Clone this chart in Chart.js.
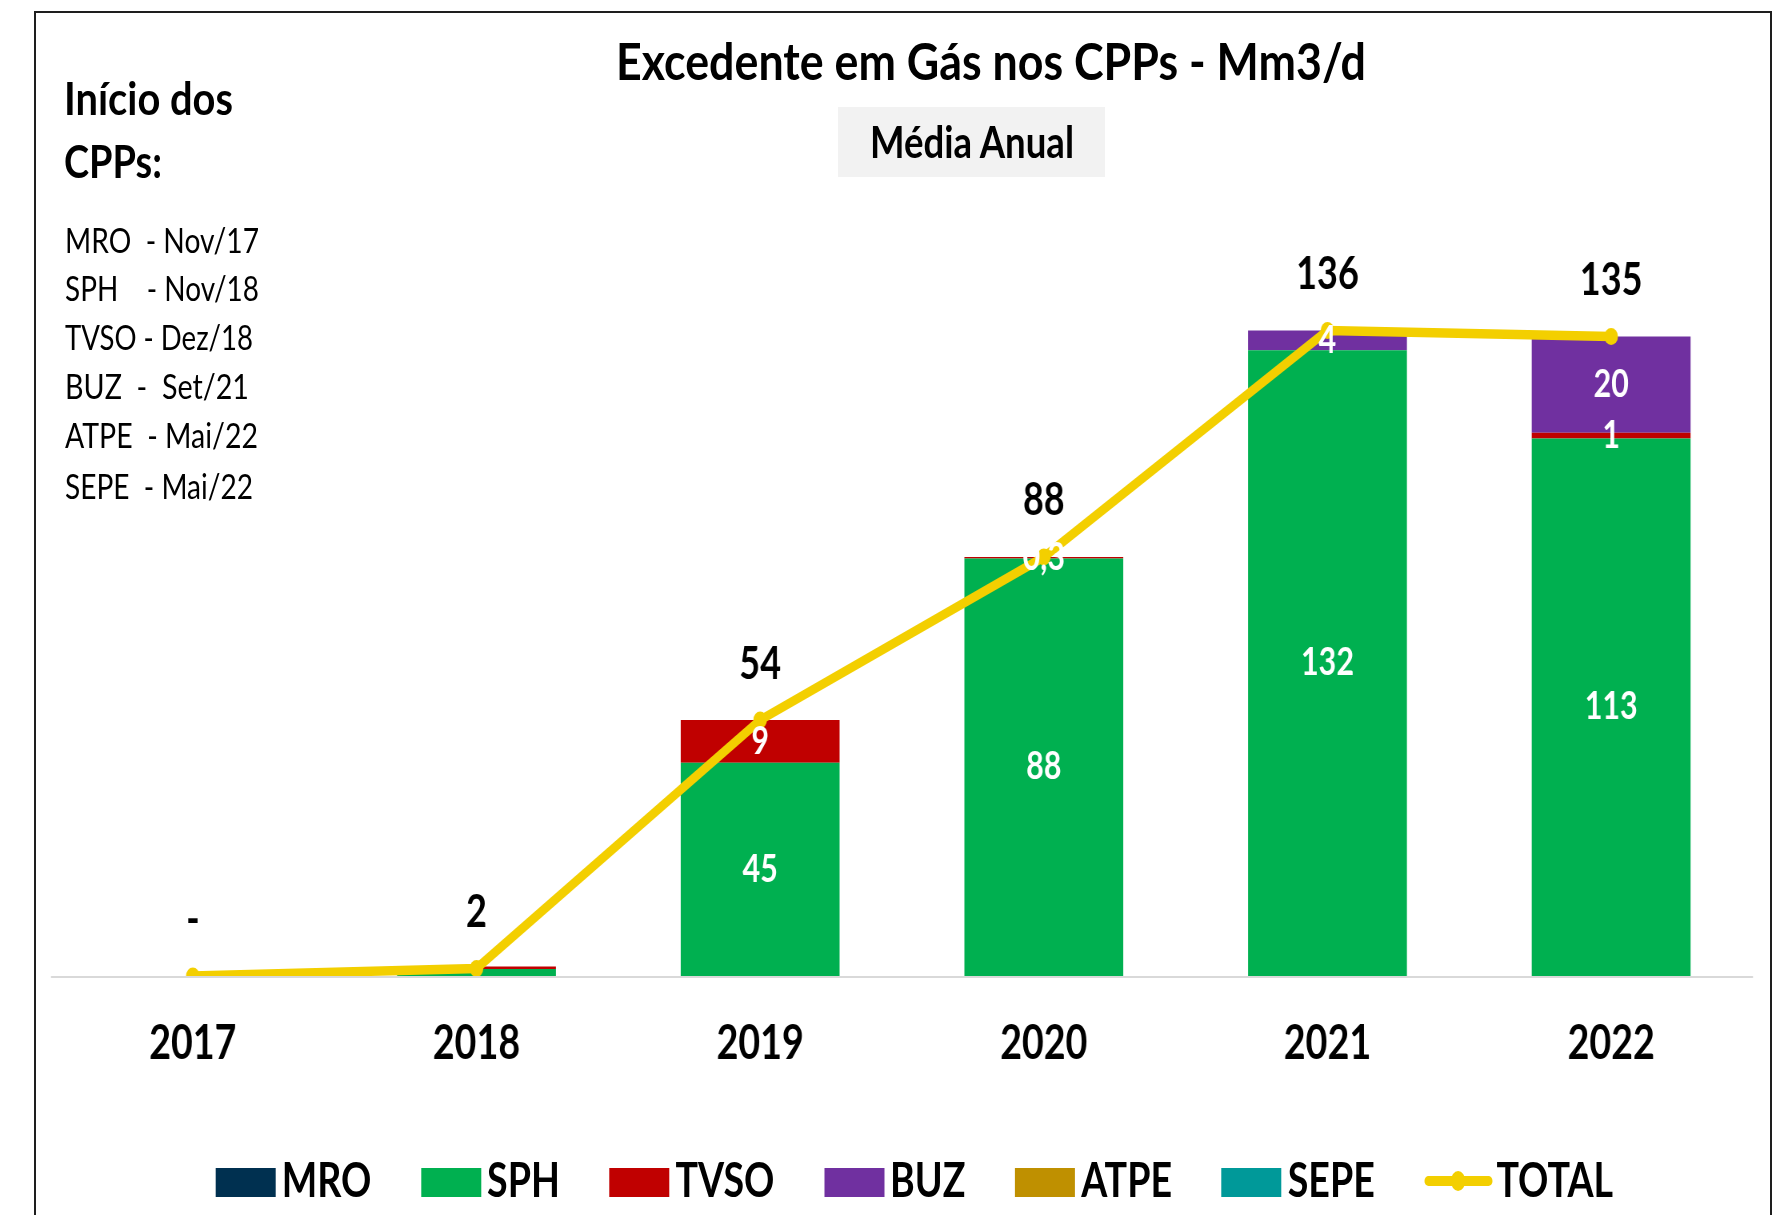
<!DOCTYPE html>
<html lang="pt">
<head>
<meta charset="utf-8">
<title>Excedente em Gás nos CPPs - Mm3/d</title>
<script src="https://cdn.jsdelivr.net/npm/chart.js@4.4.1/dist/chart.umd.min.js"></script>
<style>
	html, body { margin: 0; padding: 0; background: #fff; }
	body { position: relative; width: 1783px; height: 1215px; overflow: hidden; font-family: Lato, 'Open Sans', sans-serif; color: #000; }
	.frame { position: absolute; left: 34px; top: 11px; width: 1734px; height: 1300px; border: 2px solid #1e1e1e; }
	/* the source picture is squeezed horizontally, so the chart is drawn wide and squeezed too */
	.squeeze { position: absolute; left: 0; top: 0; width: 2229px; height: 1215px; transform: scaleX(0.8); transform-origin: 0 0; }
	.txt { position: absolute; white-space: pre; line-height: 1.2; transform-origin: 0 0; }
	.b { font-weight: 700; }
	.avg { position: absolute; left: 838px; top: 107px; width: 267px; height: 70px; background: #f2f2f2; }
	#legend { position: absolute; left: 1143px; top: 1150.6px; transform: translateX(-50%); display: flex; white-space: nowrap; font: 700 47px/1.2 Lato, sans-serif; }
	.item { display: flex; align-items: center; margin-right: 62px; }
	.item:last-child { margin-right: 0; }
	.mark { display: inline-block; position: relative; top: 3.7px; width: 75px; height: 29px; margin-right: 7.5px; }
	.mark.line { width: 85px; height: 10px; top: 2px; border-radius: 5px; margin-right: 5px; }
	.mark.line::after { content: ''; position: absolute; left: 50%; top: 50%; width: 18px; height: 20px; margin: -10px 0 0 -9px; border-radius: 50%; background: inherit; }
</style>
</head>
<body>
<div class="squeeze">
	<canvas id="chart"></canvas>
	<div id="legend"></div>
</div>
<div class="frame"></div>

<div class="txt b" data-w="750" style="left:616px; top:28.7px; font-size:52px;">Excedente em Gás nos CPPs - Mm3/d</div>
<div class="avg"></div>
<div class="txt b" data-w="204" style="left:870px; top:115.6px; font-size:43px;">Média Anual</div>

<div class="txt b" data-w="169" style="left:64px; top:69.6px; font-size:46px;">Início dos</div>
<div class="txt b" data-w="98" style="left:64px; top:132.6px; font-size:46px;">CPPs:</div>
<div class="txt" data-w="194" style="left:65px; top:220.4px; font-size:34px;">MRO  - Nov/17</div>
<div class="txt" data-w="194" style="left:65px; top:268.4px; font-size:34px;">SPH    - Nov/18</div>
<div class="txt" data-w="188" style="left:65px; top:317.4px; font-size:34px;">TVSO - Dez/18</div>
<div class="txt" data-w="184" style="left:65px; top:366.4px; font-size:34px;">BUZ  -  Set/21</div>
<div class="txt" data-w="193" style="left:65px; top:415.4px; font-size:34px;">ATPE  - Mai/22</div>
<div class="txt" data-w="188" style="left:65px; top:466.4px; font-size:34px;">SEPE  - Mai/22</div>

<script>
// Mm3/d, média anual
const years = ['2017', '2018', '2019', '2020', '2021', '2022'];
const mro   = [0, 0, 0, 0, 0, 0];
const sph   = [0, 1.5, 45, 88.1, 132, 113.4];
const tvso  = [0, 0.5, 9, 0.3, 0, 1.2];
const buz   = [0, 0, 0, 0, 4.2, 20.3];
const atpe  = [0, 0, 0, 0, 0, 0];
const sepe  = [0, 0, 0, 0, 0, 0];
const total = [0, 1.6, 54, 88.4, 136.2, 134.9];

const yMax = 160;

function fmt(v)
{
	if (v === 0) return '-';
	if (v < 1) return v.toFixed(1).replace('.', ',');
	return String(Math.round(v));
}

// thin grey base line under the bars, from the first to the last category band
const baseLine = {
	id: 'baseLine',
	beforeDatasetsDraw(chart) {
		const {ctx} = chart;
		const x = chart.scales.x;
		const half = (x.getPixelForValue(1) - x.getPixelForValue(0)) / 2;
		const x0 = x.getPixelForValue(0) - half;
		const x1 = x.getPixelForValue(years.length - 1) + half;
		const y = chart.scales.y.getPixelForValue(0) + 1;
		ctx.save();
		ctx.strokeStyle = '#D9D9D9';
		ctx.lineWidth = 2;
		ctx.beginPath();
		ctx.moveTo(x0, y);
		ctx.lineTo(x1, y);
		ctx.stroke();
		ctx.restore();
	}
};

const valueLabels = {
	id: 'valueLabels',
	afterDatasetsDraw(chart) {
		const ctx = chart.ctx;
		ctx.save();
		ctx.textAlign = 'center';
		ctx.textBaseline = 'middle';
		chart.data.datasets.forEach((ds, i) => {
			const meta = chart.getDatasetMeta(i);
			meta.data.forEach((el, j) => {
				const v = ds.data[j];
				if (ds.type === 'line') {
					ctx.fillStyle = '#000';
					ctx.font = 'bold 45px Lato';
					ctx.fillText(fmt(v), el.x, el.y - 56);
				} else if (v > 0 && total[j] >= 10) {
					const p = el.getProps(['x', 'y', 'base'], true);
					ctx.fillStyle = '#fff';
					ctx.font = 'bold 38px Lato';
					ctx.fillText(fmt(v), p.x, (p.y + p.base) / 2);
				}
			});
		});
		ctx.restore();
	}
};

function bar(label, data, color)
{
	return {
		label: label,
		data: data,
		backgroundColor: color,
		borderWidth: 0,
		barPercentage: 0.56,
		categoryPercentage: 1,
		order: 1
	};
}

const datasets = [
	bar('MRO', mro, '#003050'),
	bar('SPH', sph, '#00B050'),
	bar('TVSO', tvso, '#C00000'),
	bar('BUZ', buz, '#7030A0'),
	bar('ATPE', atpe, '#BF9000'),
	bar('SEPE', sepe, '#009999'),
	{
		type: 'line',
		label: 'TOTAL',
		data: total,
		borderColor: '#F3CF00',
		backgroundColor: '#F3CF00',
		borderWidth: 9.5,
		pointRadius: 8.5,
		pointBorderWidth: 0,
		pointBackgroundColor: '#F3CF00',
		tension: 0,
		order: 0
	}
];

Chart.defaults.font.family = 'Lato';

const chart = new Chart(document.getElementById('chart'), {
	type: 'bar',
	data: { labels: years, datasets: datasets },
	options: {
		responsive: true,
		maintainAspectRatio: false,
		animation: false,
		events: [],
		layout: { padding: { left: 63.75, right: 37.75, top: 217.6, bottom: 102.6 } },
		scales: {
			x: {
				stacked: true,
				grid: { display: false, drawTicks: false },
				border: { display: false },
				ticks: { color: '#000', padding: 40, font: { size: 47, weight: 'bold' } },
				afterFit: s => { s.height = 136.4; }
			},
			y: { stacked: true, display: false, min: 0, max: yMax }
		},
		plugins: {
			legend: { display: false },
			tooltip: { enabled: false }
		}
	},
	plugins: [baseLine, valueLabels]
});

// legend built from the chart's own datasets
const legend = document.getElementById('legend');
chart.data.datasets.forEach(ds => {
	const item = document.createElement('div');
	item.className = 'item';
	const mark = document.createElement('span');
	mark.className = ds.type === 'line' ? 'mark line' : 'mark';
	mark.style.background = ds.backgroundColor;
	const text = document.createElement('span');
	text.textContent = ds.label;
	item.appendChild(mark);
	item.appendChild(text);
	legend.appendChild(item);
});

// squeeze the page texts to the widths of the reference
document.querySelectorAll('[data-w]').forEach(el => {
	const w = el.getBoundingClientRect().width;
	el.style.transform = `scaleX(${el.dataset.w / w})`;
});
</script>
</body>
</html>
